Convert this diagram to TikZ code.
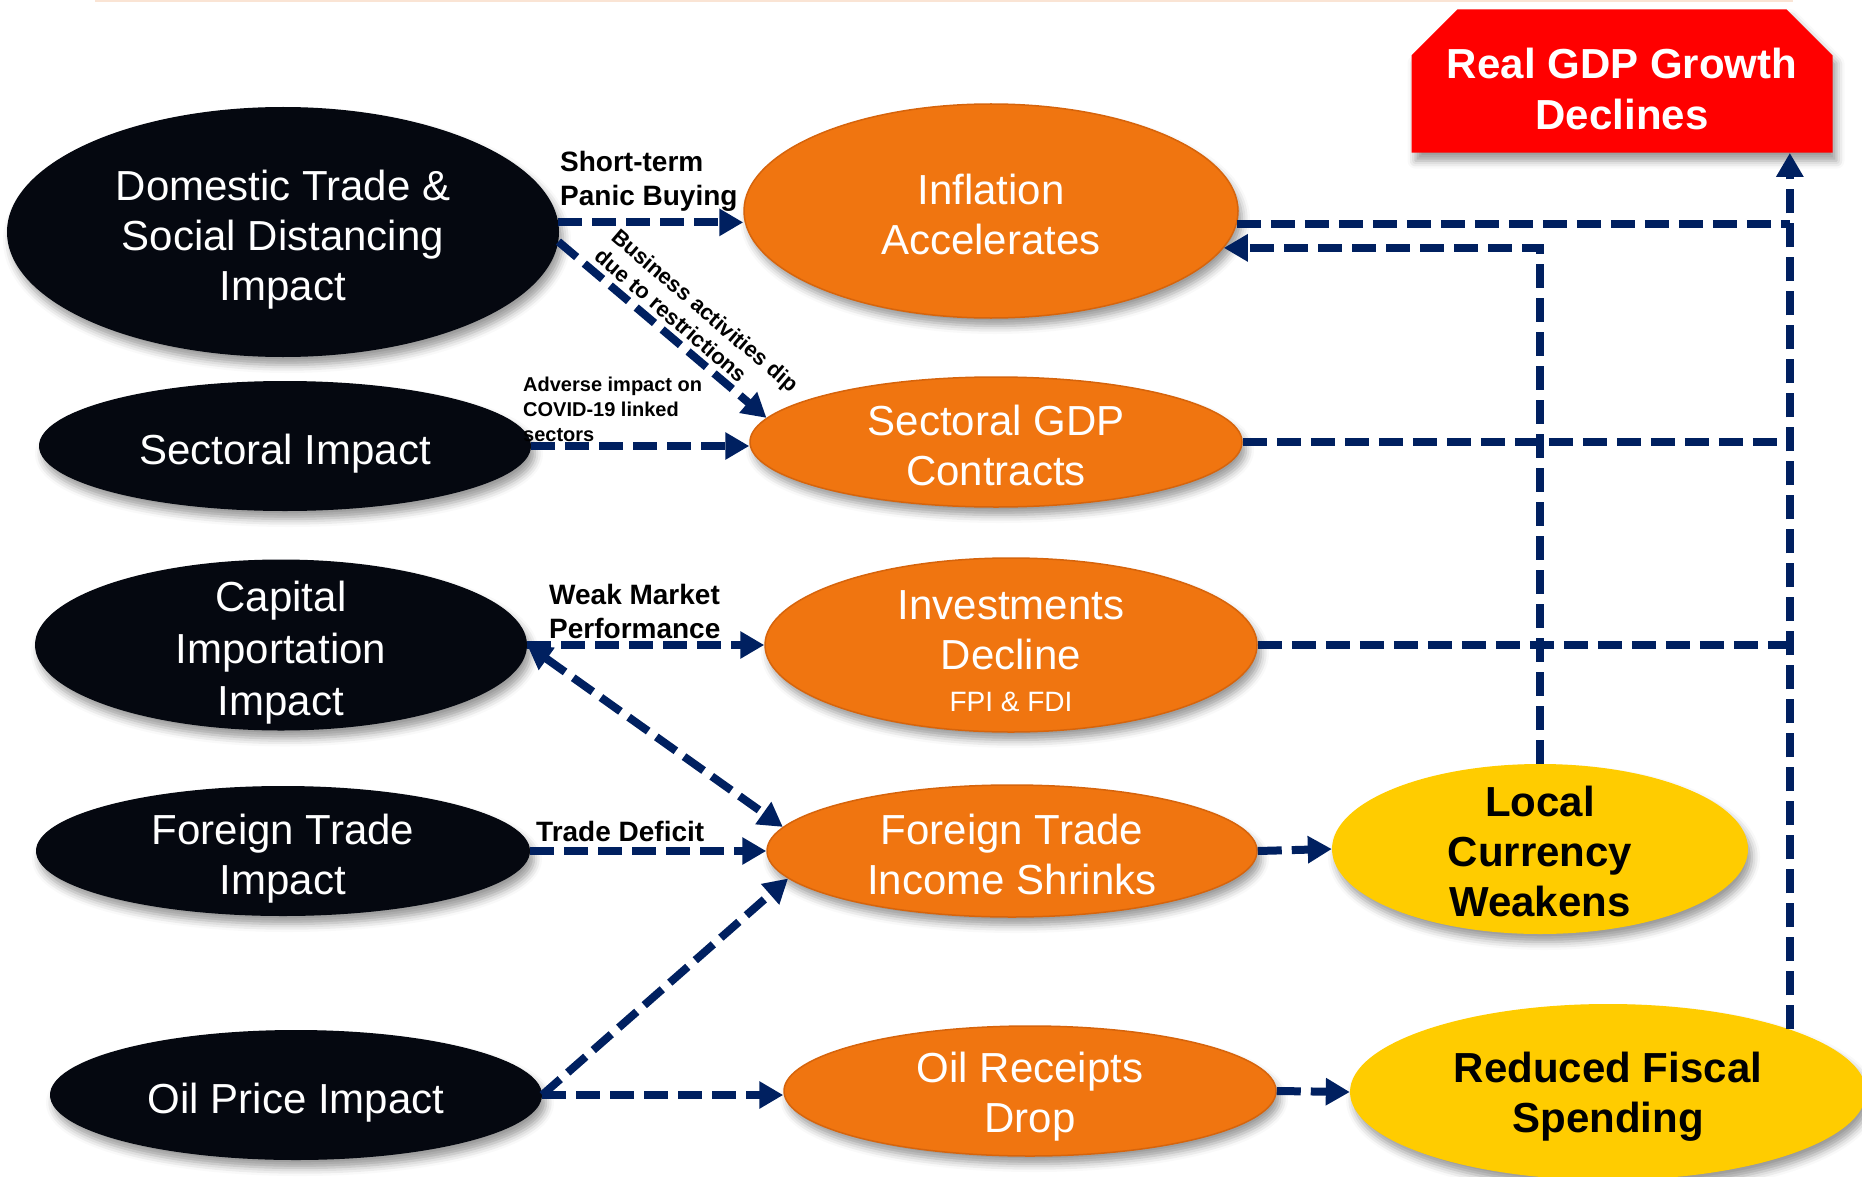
\documentclass[tikz,border=0pt]{standalone}
\usepackage{fontspec}
\setmainfont{Liberation Sans}
\usepackage{tikz}
\usetikzlibrary{shapes.geometric, shapes.misc, arrows.meta, shadows.blur}
\definecolor{flowNavy}{RGB}{0,32,96}
\definecolor{causeBlack}{RGB}{5,8,16}
\definecolor{effectOrange}{RGB}{240,117,16}
\definecolor{effectEdge}{RGB}{214,100,12}
\definecolor{outcomeYellow}{RGB}{255,204,0}
\definecolor{gdpRed}{RGB}{255,0,0}
\definecolor{ruleColor}{RGB}{250,228,212}
\newcommand{\nodeFont}{\fontsize{42}{50}\selectfont}
\newcommand{\labelFont}{\fontsize{28}{34}\selectfont}
\newcommand{\smallLabelFont}{\fontsize{20}{25}\selectfont}
\newcommand{\slopeLabelFont}{\fontsize{22}{26}\selectfont}
\newcommand{\lowerBy}[1]{\rule{0pt}{#1}}
\tikzstyle{pixelGrid} = [x = 1pt, y = -1pt]
\tikzstyle{softShadow} = [blur shadow = {shadow xshift = 4pt, shadow yshift = -8pt, shadow blur radius = 8pt, shadow opacity = 40}]
\tikzstyle{bubble} = [ellipse, inner sep = -30pt, align = center, font = \nodeFont, softShadow]
\tikzstyle{causeStyle} = [bubble, fill = causeBlack, text = white]
\tikzstyle{effectStyle} = [bubble, fill = effectOrange, draw = effectEdge, line width = 1.5pt, text = white]
\tikzstyle{outcomeStyle} = [bubble, fill = outcomeYellow, text = black, font = \nodeFont\bfseries]
\tikzstyle{gdpStyle} = [chamfered rectangle, chamfered rectangle corners = {north west, north east}, chamfered rectangle sep = 23pt, minimum width = 421pt, minimum height = 142pt, inner sep = 0pt, fill = gdpRed, text = white, align = center, font = \nodeFont\bfseries, softShadow]
\tikzstyle{flowLine} = [draw = flowNavy, line width = 8pt, dash pattern = on 24pt off 10pt]
\tikzstyle{flowArrow} = [flowLine, -{Triangle[length = 24pt, width = 26pt]}]
\tikzstyle{flowBoth} = [flowLine, {Triangle[length = 24pt, width = 26pt]}-{Triangle[length = 24pt, width = 26pt]}]
\tikzstyle{flowLabel} = [font = \labelFont\bfseries, inner sep = 0pt, align = left, anchor = west]
\tikzstyle{smallLabel} = [flowLabel, font = \smallLabelFont\bfseries]
\tikzstyle{slopeLabel} = [flowLabel, font = \slopeLabelFont\bfseries, anchor = center, rotate = -40.5]
\tikzstyle{ruleLine} = [draw = ruleColor, line width = 2pt]
\newcommand{\causeEllipse}[6]{\node [causeStyle, minimum width = #4, minimum height = #5] (#1) at (#2, #3) {\lowerBy{45pt}#6};}
\newcommand{\effectEllipse}[6]{\node [effectStyle, minimum width = #4, minimum height = #5] (#1) at (#2, #3) {\lowerBy{37pt}#6};}
\newcommand{\outcomeEllipse}[6]{\node [outcomeStyle, minimum width = #4, minimum height = #5] (#1) at (#2, #3) {\lowerBy{35pt}#6};}

\begin{document}
\begin{tikzpicture}[pixelGrid]
  \useasboundingbox (0, 0) rectangle (1862, 1177);
  \draw [ruleLine] (95, 1) -- (1793, 1);

  % causes
  \causeEllipse{dom}{283}{232}{552pt}{250pt}{Domestic Trade \&\\Social Distancing\\Impact}
  \causeEllipse{secImp}{285}{446}{492pt}{130pt}{Sectoral Impact}
  \causeEllipse{capImp}{281}{645}{492pt}{171pt}{Capital\\[2pt]Importation\\[2pt]Impact}
  \causeEllipse{ftrImp}{283}{851}{494pt}{130pt}{Foreign Trade\\Impact}
  \causeEllipse{oilImp}{296}{1095}{492pt}{130pt}{Oil Price Impact}

  % effects
  \effectEllipse{infl}{991}{211}{494pt}{214pt}{Inflation\\Accelerates}
  \effectEllipse{sgdp}{996}{442}{492pt}{130pt}{Sectoral GDP\\Contracts}
  \effectEllipse{inv}{1011}{645}{492pt}{174pt}{\lowerBy{42pt}Investments\\Decline\\[-8pt]{\labelFont FPI \& FDI}}
  \effectEllipse{fti}{1012}{851}{490pt}{132pt}{Foreign Trade\\Income Shrinks}
  \effectEllipse{orc}{1030}{1091}{492pt}{130pt}{\lowerBy{42pt}Oil Receipts\\Drop}

  % outcomes
  \outcomeEllipse{cur}{1540}{849}{416pt}{170pt}{Local\\Currency\\Weakens}
  \outcomeEllipse{fis}{1608}{1092}{516pt}{176pt}{\lowerBy{40pt}Reduced Fiscal\\Spending}
  \node [gdpStyle] (gdp) at (1622, 81) {\lowerBy{46pt}Real GDP Growth\\[1pt]Declines};

  % connectors
  \draw [flowArrow] (dom.2) -- (dom.2 -| infl.west);
  \draw [flowArrow] (dom.-2) -- (sgdp.174);
  \draw [flowArrow] (secImp.east) -- (secImp.east -| sgdp.west);
  \draw [flowArrow] (capImp.east) -- (inv.west);
  \draw [flowBoth] (capImp.east) -- (fti.174);
  \draw [flowArrow] (ftrImp.east) -- (fti.west);
  \draw [flowArrow] (oilImp.east) -- (fti.187);
  \draw [flowArrow] (oilImp.east) -- (oilImp.east -| orc.west);
  \draw [flowArrow] (fti.east) -- (cur.west);
  \draw [flowArrow] (orc.east) -- (fis.west);
  \coordinate (trunk) at (fis.19);
  \draw [flowArrow] (cur.north) |- (infl.-9);
  \draw [flowLine] (infl.-3) -- (infl.-3 -| trunk);
  \draw [flowLine] (sgdp.east) -- (sgdp.east -| trunk);
  \draw [flowLine] (inv.east) -- (inv.east -| trunk);
  \draw [flowArrow] (trunk) -- (trunk |- gdp.south);

  % labels
  \node [flowLabel] (lblPanic) at (560, 181) {Short-term\\Panic Buying};
  \node [slopeLabel] (lblBusiness) at (697, 320) {Business activities dip\\due to restrictions};
  \node [smallLabel] (lblAdverse) at (523, 409) {Adverse impact on\\COVID-19 linked\\sectors};
  \node [flowLabel] (lblWeak) at (549, 611) {Weak Market\\Performance};
  \node [flowLabel] (lblDeficit) at (536, 831) {Trade Deficit};
\end{tikzpicture}
\end{document}
